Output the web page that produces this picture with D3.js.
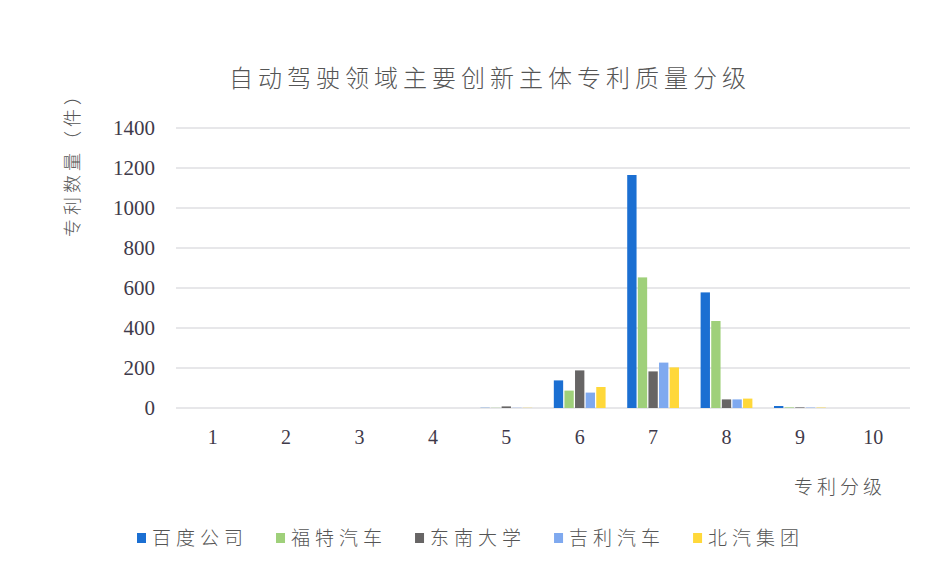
<!DOCTYPE html>
<html>
<head>
<meta charset="utf-8">
<script src="https://cdn.jsdelivr.net/npm/d3@7"></script>
<style>
  body { margin: 0; background: #fff; }
  .cjk { font-family: "Noto Sans CJK SC", sans-serif; font-weight: 300; }
  .num { font-family: "Liberation Serif", "DejaVu Serif", serif; }
</style>
</head>
<body>
<svg id="chart" width="940" height="582"></svg>
<script>
// patent grade 1..10
const grades = ["1", "2", "3", "4", "5", "6", "7", "8", "9", "10"];
const companies = ["百度公司", "福特汽车", "东南大学", "吉利汽车", "北汽集团"];
const colors = ["#1b6fd2", "#9fd07a", "#676565", "#7fa9ef", "#ffd83a"];

const baidu   = [0, 0, 0, 0, 1, 138, 1165, 578, 10, 0];
const ford    = [0, 0, 0, 0, 1, 87, 653, 435, 3, 0];
const seu     = [0, 0, 0, 0, 8, 188, 183, 43, 3, 0];
const geely   = [0, 0, 0, 0, 1, 77, 227, 43, 2, 0];
const baic    = [0, 0, 0, 0, 1, 105, 203, 47, 2, 0];
const series = [baidu, ford, seu, geely, baic];

const yTicks = [0, 200, 400, 600, 800, 1000, 1200, 1400];

const svg = d3.select("#chart");
const margin = { left: 176, right: 30, top: 128, bottom: 174 };
const W = 940, H = 582;

const x = d3.scaleBand()
    .domain(grades)
    .range([margin.left, W - margin.right])
    .paddingInner(0.26)
    .paddingOuter(0.13);

const xSub = d3.scaleBand()
    .domain(companies)
    .range([0, x.bandwidth()])
    .padding(0.12);

const y = d3.scaleLinear()
    .domain([0, 1400])
    .range([H - margin.bottom, margin.top]);

// gridlines
svg.append("g")
    .selectAll("line")
    .data(yTicks)
    .enter().append("line")
    .attr("x1", margin.left)
    .attr("x2", W - margin.right)
    .attr("y1", d => y(d))
    .attr("y2", d => y(d))
    .attr("stroke", "#cfcfd4")
    .attr("stroke-width", 1);

// y tick labels
svg.append("g")
    .selectAll("text")
    .data(yTicks)
    .enter().append("text")
    .attr("class", "num")
    .attr("x", 155)
    .attr("y", d => y(d))
    .attr("dy", "0.35em")
    .attr("text-anchor", "end")
    .attr("font-size", 21)
    .attr("fill", "#3f3a4a")
    .text(d => d);

// x tick labels
svg.append("g")
    .selectAll("text")
    .data(grades)
    .enter().append("text")
    .attr("class", "num")
    .attr("x", d => x(d) + x.bandwidth() / 2)
    .attr("y", 444)
    .attr("text-anchor", "middle")
    .attr("font-size", 20)
    .attr("fill", "#3f3a4a")
    .text(d => d);

// bars
const groups = svg.append("g")
    .selectAll("g")
    .data(series)
    .enter().append("g")
    .attr("fill", (d, i) => colors[i]);

groups.selectAll("rect")
    .data((d, i) => d.map((v, j) => ({ v: v, grade: grades[j], company: companies[i] })))
    .enter().append("rect")
    .attr("x", d => x(d.grade) + xSub(d.company))
    .attr("width", xSub.bandwidth())
    .attr("y", d => y(d.v))
    .attr("height", d => y(0) - y(d.v));

// title
svg.append("text")
    .attr("class", "cjk")
    .attr("x", 490)
    .attr("y", 87)
    .attr("text-anchor", "middle")
    .attr("font-size", 24)
    .attr("letter-spacing", 5)
    .attr("fill", "#555")
    .text("自动驾驶领域主要创新主体专利质量分级");

// y axis title
svg.append("text")
    .attr("class", "cjk")
    .attr("transform", "translate(79,160) rotate(-90)")
    .attr("text-anchor", "middle")
    .attr("font-size", 18)
    .attr("letter-spacing", 4)
    .attr("fill", "#555")
    .text("专利数量（件）");

// x axis title
svg.append("text")
    .attr("class", "cjk")
    .attr("x", 886)
    .attr("y", 494)
    .attr("text-anchor", "end")
    .attr("font-size", 19)
    .attr("letter-spacing", 4)
    .attr("fill", "#555")
    .text("专利分级");

// legend
const legend = svg.append("g");
let lx = 137;
companies.forEach((c, i) => {
    legend.append("rect")
        .attr("x", lx)
        .attr("y", 533)
        .attr("width", 9)
        .attr("height", 10)
        .attr("fill", colors[i]);
    const t = legend.append("text")
        .attr("class", "cjk")
        .attr("x", lx + 15)
        .attr("y", 545)
        .attr("font-size", 19)
        .attr("letter-spacing", 5)
        .attr("fill", "#555")
        .text(c);
    lx += 15 + t.node().getComputedTextLength() + 28;
});
</script>
</body>
</html>
